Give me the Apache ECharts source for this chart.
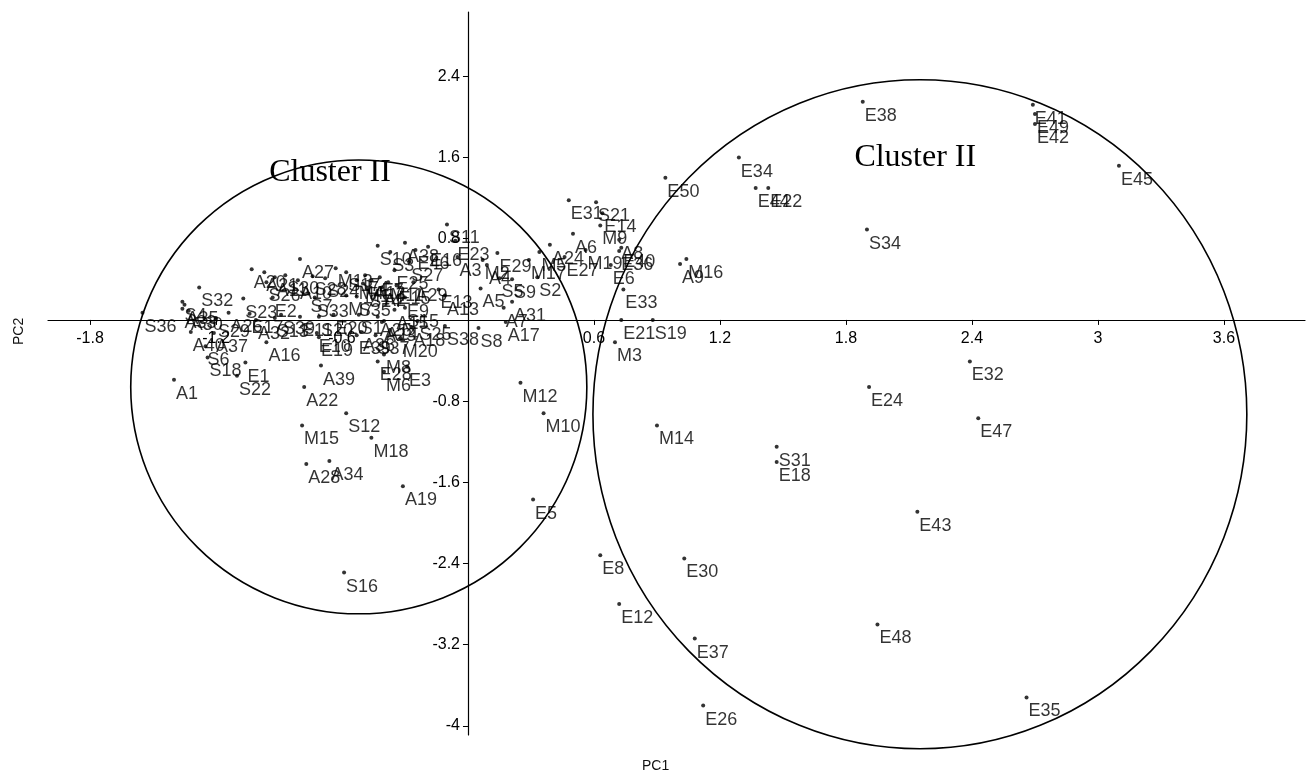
<!DOCTYPE html>
<html>
<head>
<meta charset="utf-8">
<script src="https://cdn.jsdelivr.net/npm/echarts@6/dist/echarts.min.js"></script>
<style>html,body{margin:0;padding:0;background:#fff}#c{width:1309px;height:772px}</style>
</head>
<body>
<div id="c"></div>
<script>
const pointLabels = ['E38','E41','E49','E42','E45','E34','E44','E22','E50','S34','M16','A9','E33','E21','S19','M3','E32','E24','E47','M12','M10','M14','S31','E18','E43','E5','E8','E30','E12','E37','E48','E26','E35','E31','S21','E14','M9','A8','E40','M19','E36','E6','E27','A6','A24','M5','M17','S2','E29','M2','A4','A3','E23','S11','S5','S9','A5','A31','A7','A17','S8','S38','A18','A13','E13','E16','A38','S10','S3','E46','S27','E25','A29','E15','E9','S35','M7','A14','M20','A36','M8','E28','M6','E3','E19','E10','A39','A22','S12','M15','M18','A28','A34','A19','S16','A1','S22','E1','S18','S6','A16','A40','A37','S36','S32','S4','A35','A33','A30','S23','E2','A26','E17','S29','A32','S13','A20','A21','A11','S30','S26','A10','A27','M13','S24','S28','S7','S33','M4','M1','S14','A12','E7','A2','M11','S17','E4','S39','E11','S20','E20','S1','A25','A23','A15','S15','S25','S37','E39'];
const pc1 = [1.88,2.69,2.70,2.70,3.10,1.29,1.37,1.43,0.94,1.90,1.04,1.01,0.74,0.73,0.88,0.70,2.39,1.91,2.43,0.25,0.36,0.90,1.47,1.47,2.14,0.31,0.63,1.03,0.72,1.08,1.95,1.12,2.66,0.48,0.61,0.64,0.63,0.72,0.73,0.56,0.72,0.68,0.46,0.50,0.39,0.34,0.29,0.33,0.14,0.07,0.09,-0.05,-0.06,-0.10,0.15,0.21,0.06,0.21,0.17,0.18,0.05,-0.11,-0.27,-0.11,-0.14,-0.19,-0.30,-0.43,-0.37,-0.25,-0.28,-0.35,-0.26,-0.34,-0.30,-0.53,-0.58,-0.40,-0.32,-0.51,-0.40,-0.43,-0.40,-0.29,-0.71,-0.72,-0.70,-0.78,-0.58,-0.79,-0.46,-0.77,-0.66,-0.31,-0.59,-1.40,-1.10,-1.06,-1.24,-1.25,-0.96,-1.32,-1.21,-1.55,-1.28,-1.36,-1.35,-1.36,-1.33,-1.07,-0.93,-1.14,-1.04,-1.20,-1.01,-0.92,-1.03,-0.97,-0.92,-0.87,-0.96,-0.81,-0.80,-0.63,-0.68,-0.74,-0.76,-0.73,-0.53,-0.50,-0.48,-0.46,-0.42,-0.41,-0.38,-0.58,-0.49,-0.89,-0.80,-0.71,-0.64,-0.52,-0.43,-0.41,-0.35,-0.30,-0.24,-0.44,-0.53];
const pc2 = [2.15,2.12,2.03,1.93,1.52,1.60,1.30,1.30,1.40,0.89,0.60,0.55,0.30,0.00,0.00,-0.22,-0.41,-0.66,-0.97,-0.62,-0.92,-1.04,-1.25,-1.40,-1.89,-1.77,-2.32,-2.35,-2.80,-3.14,-3.00,-3.80,-3.72,1.18,1.16,1.05,0.93,0.79,0.71,0.69,0.68,0.54,0.62,0.85,0.74,0.67,0.59,0.42,0.66,0.59,0.54,0.62,0.78,0.94,0.41,0.40,0.31,0.18,0.12,-0.02,-0.08,-0.06,-0.07,0.24,0.30,0.72,0.76,0.73,0.67,0.69,0.57,0.49,0.37,0.34,0.22,0.23,0.24,-0.01,-0.18,-0.12,-0.34,-0.41,-0.51,-0.46,-0.17,-0.13,-0.45,-0.66,-0.92,-1.04,-1.16,-1.42,-1.39,-1.64,-2.49,-0.59,-0.55,-0.42,-0.37,-0.26,-0.22,-0.12,-0.13,0.07,0.32,0.18,0.15,0.11,0.09,0.21,0.22,0.07,0.06,0.02,0.00,0.02,0.50,0.47,0.42,0.44,0.37,0.39,0.60,0.51,0.41,0.43,0.26,0.22,0.39,0.36,0.31,0.39,0.42,0.32,0.37,0.47,0.44,0.05,0.03,0.03,0.05,0.05,0.03,-0.02,0.10,0.12,-0.01,-0.15,-0.15];

const xTicks = [-1.8,-1.2,-0.6,0.6,1.2,1.8,2.4,3,3.6];
const yTicks = [-4,-3.2,-2.4,-1.6,-0.8,0.8,1.6,2.4];

const circleX = [-0.52, 2.152];
const circleY = [-0.66, -0.93];
const circleRX = [1.086, 1.557];
const circleRY = [2.236, 3.296];

const clusterNames = ['Cluster II','Cluster II'];
const clusterX = [-0.657, 2.13];
const clusterY = [1.45, 1.60];

const pts = pointLabels.map((n,i)=>[pc1[i], pc2[i], n]);
const ellipses = circleX.map((x,i)=>[x, circleY[i], circleRX[i], circleRY[i]]);
const clusters = clusterNames.map((n,i)=>[clusterX[i], clusterY[i], n]);

const chart = echarts.init(document.getElementById('c'), null, {renderer:'canvas'});
const FONT = "'Liberation Sans', Arial, Helvetica, sans-serif";
const GRID = {left:48, right:4, top:12, bottom:37};
chart.setOption({
  animation:false,
  backgroundColor:'#fff',
  grid:Object.assign({containLabel:false}, GRID),
  xAxis:{type:'value', min:-2.0, max:3.986, position:'bottom', offset:0,
    axisLine:{onZero:false, lineStyle:{color:'#000', width:1.2}},
    axisTick:{show:true, customValues:xTicks, length:5, lineStyle:{color:'#000'}},
    axisLabel:{customValues:xTicks, fontSize:16, color:'#000', margin:11, fontFamily:FONT},
    splitLine:{show:false}},
  yAxis:{type:'value', min:-4.09, max:3.034, position:'left', offset:0,
    axisLine:{onZero:false, lineStyle:{color:'#000', width:1.2}},
    axisTick:{show:true, customValues:yTicks, length:5, lineStyle:{color:'#000'}},
    axisLabel:{customValues:yTicks, fontSize:16, color:'#000', margin:8, fontFamily:FONT},
    splitLine:{show:false}},
  graphic:[
    {type:'text', left:642, top:759, style:{text:'PC1', font:'14px '+FONT, fill:'#111'}},
    {type:'text', x:12, y:345, rotation:Math.PI/2, style:{text:'PC2', font:'14px '+FONT, fill:'#111'}}
  ],
  series:[
    {type:'scatter', data:pts, symbolSize:4, itemStyle:{color:'#000'},
     label:{show:true, formatter:p=>p.data[2], position:[4,7], fontSize:18, color:'#000', fontFamily:FONT},
     labelLayout:{hideOverlap:false}, z:3},
    {type:'custom', data:ellipses, clip:false, silent:true, z:2,
     renderItem:(params, api)=>{
       const c = api.coord([api.value(0), api.value(1)]);
       const rx = api.size([api.value(2), 0])[0];
       const ry = api.size([0, api.value(3)])[1];
       const d = 'M' + (c[0]-rx) + ' ' + c[1] +
         ' A' + rx + ' ' + ry + ' 0 1 0 ' + (c[0]+rx) + ' ' + c[1] +
         ' A' + rx + ' ' + ry + ' 0 1 0 ' + (c[0]-rx) + ' ' + c[1] + ' Z';
       return {type:'path', shape:{pathData:d}, style:{fill:'none', stroke:'#000', lineWidth:1.6}};
     }},
    {type:'custom', data:clusters, clip:false, silent:true, z:4,
     renderItem:(params, api)=>{
       const c = api.coord([api.value(0), api.value(1)]);
       return {type:'text', x:c[0], y:c[1], style:{text:clusterNames[params.dataIndex], font:"32px 'Liberation Serif', 'Times New Roman', serif", fill:'#000', align:'center', verticalAlign:'middle'}};
     }}
  ]
});
// move both axes so they cross at the origin (labels follow the axis line)
const zero = chart.convertToPixel({gridIndex:0}, [0, 0]);
const gridBottom = 772 - GRID.bottom;
chart.setOption({
  xAxis:{offset: -(gridBottom - zero[1])},
  yAxis:{offset: -(zero[0] - GRID.left)}
});
</script>
</body>
</html>
